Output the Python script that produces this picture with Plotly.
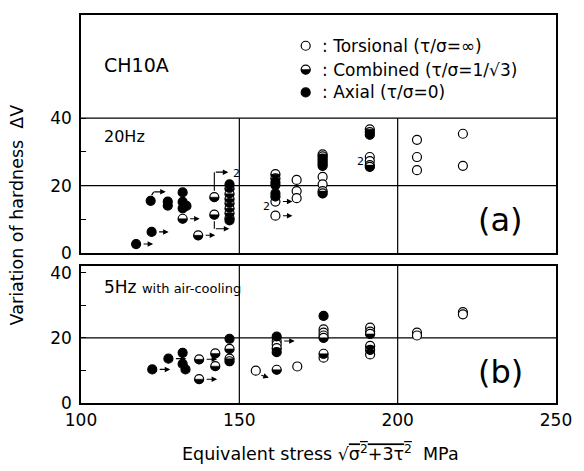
import numpy as np
import plotly.graph_objects as go

# ---------------- data ----------------
# upper panel: 20 Hz
u_tor_x = [161.4, 161.4, 168.1, 168.1, 168.1, 176.3, 176.3, 191.2, 191.2, 206.1, 206.1, 206.1, 220.6, 220.6]
u_tor_y = [15.3, 11.1, 21.7, 18.4, 16.3, 22.6, 20.4, 28.5, 27.3, 33.6, 28.5, 24.6, 35.4, 25.9]
u_com_x = [132.1, 137.0, 142.1, 142.1, 146.9, 146.9, 146.9, 146.9, 146.9, 146.9, 146.9,
           161.4, 161.4, 161.4, 176.3, 176.3, 176.3, 176.3, 176.3, 176.3, 176.3, 176.3,
           191.2, 191.2, 191.2, 191.2, 191.2]
u_com_y = [10.2, 5.3, 16.6, 11.4, 19.2, 17.6, 16.1, 14.8, 13.3, 11.9, 10.4,
           23.4, 22.2, 16.8, 29.3, 28.7, 28.0, 27.3, 26.6, 25.9, 18.4, 17.7,
           36.7, 35.9, 35.1, 26.1, 25.6]
u_ax_x = [117.4, 122.3, 122.0, 127.4, 127.4, 132.1, 132.1, 133.3, 132.1, 146.9, 146.9, 161.4, 161.4, 161.4]
u_ax_y = [2.7, 6.3, 15.5, 15.3, 14.1, 18.0, 15.2, 14.0, 13.3, 20.4, 9.7, 21.0, 20.2, 17.7]

# lower panel: 5 Hz with air-cooling
l_tor_x = [155.2, 161.8, 161.8, 168.3, 176.6, 176.6, 176.6, 176.6, 191.3, 191.3, 191.3, 206.1, 206.1, 220.6, 220.6]
l_tor_y = [9.9, 19.0, 18.0, 11.2, 22.6, 21.6, 20.7, 13.9, 23.1, 21.9, 14.9, 21.6, 20.7, 27.9, 27.2]
l_com_x = [137.3, 137.3, 142.4, 142.4, 146.9, 146.9, 146.9, 161.8, 161.8, 176.6, 176.6, 191.3, 191.3, 191.3]
l_com_y = [13.4, 7.3, 15.2, 11.3, 16.6, 13.6, 12.8, 16.8, 10.2, 20.0, 15.1, 21.2, 17.5, 16.3]
l_ax_x = [122.5, 127.6, 132.1, 132.1, 133.0, 146.9, 161.8, 161.8, 176.6]
l_ax_y = [10.3, 13.6, 15.4, 12.0, 10.3, 19.7, 20.4, 15.6, 26.7]

# run-out arrows (base points)
u_arrow_x = [117.4, 122.3, 132.1, 137.0, 161.4, 161.4]
u_arrow_y = [2.7, 6.3, 10.2, 5.3, 15.3, 11.1]
l_arrow_x = [122.5, 127.6, 137.3, 137.3, 161.8]
l_arrow_y = [10.3, 13.6, 13.4, 7.3, 19.0]

x_ticks = [100, 150, 200, 250]
y_ticks = [0, 10, 20, 30, 40]
y_ticktext = ["0", "", "20", "", "40"]

FONT = "DejaVu Sans"
MS = 9
R = MS / 2

fig = go.Figure()

def add_points(xs, ys, yaxis, kind):
    if kind == "axial":
        mk = dict(size=MS, color="black", line=dict(color="black", width=1.2))
    else:
        mk = dict(size=MS, color="white", line=dict(color="black", width=1.2))
    fig.add_trace(go.Scatter(x=xs, y=ys, mode="markers", marker=mk, xaxis="x" if yaxis == "y2" else "x2",
                             yaxis=yaxis, showlegend=False, hoverinfo="skip"))

def half_path(r, n=14):
    t = np.linspace(0, np.pi, n)
    pts = [(r * np.cos(a), -r * np.sin(a)) for a in t]
    return "M " + " L ".join(f"{px:.2f},{py:.2f}" for px, py in pts) + " Z"

shapes = []

def add_halves(xs, ys, xref, yref):
    for x, y in zip(xs, ys):
        shapes.append(dict(type="path", xref=xref, yref=yref, xsizemode="pixel", ysizemode="pixel",
                           xanchor=x, yanchor=y, path=half_path(R), fillcolor="black",
                           line=dict(color="black", width=0.5), layer="above"))

add_points(u_tor_x, u_tor_y, "y", "open")
add_points(u_com_x, u_com_y, "y", "open")
add_points(u_ax_x, u_ax_y, "y", "axial")
add_points(l_tor_x, l_tor_y, "y2", "open")
add_points(l_com_x, l_com_y, "y2", "open")
add_points(l_ax_x, l_ax_y, "y2", "axial")
add_halves(u_com_x, u_com_y, "x2", "y")
add_halves(l_com_x, l_com_y, "x", "y2")

# grid lines
GL = dict(color="black", width=1.2)
for xv in x_ticks[1:-1]:
    shapes.append(dict(type="line", xref="x2", yref="y", x0=xv, x1=xv, y0=0, y1=y_ticks[-1], line=GL, layer="below"))
    shapes.append(dict(type="line", xref="x", yref="y2 domain", x0=xv, x1=xv, y0=0, y1=1, line=GL, layer="below"))
for yv in [20, 40]:
    shapes.append(dict(type="line", xref="x2 domain", yref="y", x0=0, x1=1, y0=yv, y1=yv, line=GL, layer="below"))
shapes.append(dict(type="line", xref="x domain", yref="y2", x0=0, x1=1, y0=20, y1=20, line=GL, layer="below"))

annotations = []

def arrow(x, y, xref, yref, x0, x1, y0=0, y1=None, head=True):
    # offsets in pixels relative to the point (y upwards)
    if y1 is None:
        y1 = y0
    annotations.append(dict(x=x, y=y, xref=xref, yref=yref, text="", showarrow=True,
                            xshift=x1, yshift=y1, ax=x0 - x1, ay=-(y0 - y1), axref="pixel", ayref="pixel",
                            arrowhead=2 if head else 0, arrowsize=1, arrowwidth=1.1, arrowcolor="black",
                            standoff=0, startstandoff=0))

for x, y in zip(u_arrow_x, u_arrow_y):
    arrow(x, y, "x2", "y", 6, 17)
for x, y in zip(l_arrow_x, l_arrow_y):
    arrow(x, y, "x", "y2", 6, 18)
# special arrows (upper)
arrow(u_ax_x[2], u_ax_y[2], "x2", "y", 2, 15, 9, 9)
arrow(u_ax_x[2], u_ax_y[2], "x2", "y", 0, 3, 4, 9, head=False)
arrow(u_com_x[2], u_com_y[2], "x2", "y", 0, 0, 5, 25, head=False)
arrow(u_com_x[2], u_com_y[2], "x2", "y", 0, 14, 25, 25)
arrow(u_com_x[3], u_com_y[3], "x2", "y", 0, 0, -5, -14, head=False)
arrow(u_com_x[3], u_com_y[3], "x2", "y", 0, 15, -14, -14)
# special arrow (lower)
arrow(l_tor_x[0], l_tor_y[0], "x", "y2", 4, 13, -4, -7)

def label2(x, y, xref, yref, dx, dy):
    annotations.append(dict(x=x, y=y, xref=xref, yref=yref, text="2", showarrow=False,
                            xshift=dx, yshift=dy, font=dict(family=FONT, size=11, color="black")))

label2(146.9, 20.4, "x2", "y", 7, 11)
label2(161.4, 15.3, "x2", "y", -9, -5)
label2(191.2, 27.3, "x2", "y", -9, 0)

W, H = 584, 471
ML, MR, MT, MB = 81, 21, 12, 68
PW, PH = W - ML - MR, H - MT - MB

def px(xp):
    return (xp - ML) / PW

def py(yp):
    return (H - MB - yp) / PH

def txt(x, y, s, size, xanchor="left", yanchor="middle", **kw):
    annotations.append(dict(x=px(x), y=py(y), xref="paper", yref="paper", text=s, showarrow=False,
                            xanchor=xanchor, yanchor=yanchor,
                            font=dict(family=FONT, size=size, color="black"), **kw))

txt(102, 62, "CH10A", 19)
txt(102, 134, "20Hz", 16)
txt(102, 286, "5Hz <span style='font-size:13px'>with air-cooling</span>", 17)
txt(507, 219, "(a)", 32, xanchor="center")
txt(507, 372, "(b)", 32, xanchor="center")
txt(324, 43, ": Torsional (τ/σ=∞)", 17)
txt(324, 67, ": Combined (τ/σ=1/√3)", 17)
txt(324, 90, ": Axial (τ/σ=0)", 17)
txt(17, 213, "Variation of hardness  ΔV", 17.5, xanchor="center", textangle=-90)
txt(324, 453, "Equivalent stress √<span style='text-decoration:overline'>σ<sup>2</sup>+3τ<sup>2</sup></span>  MPa", 17.5,
    xanchor="center")

# legend symbols
for i, yp in enumerate([43, 67, 90]):
    fill = ["white", "white", "black"][i]
    shapes.append(dict(type="circle", xref="paper", yref="paper", xsizemode="pixel", ysizemode="pixel",
                       xanchor=px(309), yanchor=py(yp), x0=-R, x1=R, y0=-R, y1=R,
                       fillcolor=fill, line=dict(color="black", width=1.2), layer="above"))
    if i == 1:
        shapes.append(dict(type="path", xref="paper", yref="paper", xsizemode="pixel", ysizemode="pixel",
                           xanchor=px(309), yanchor=py(yp), path=half_path(R), fillcolor="black",
                           line=dict(color="black", width=0.5), layer="above"))

AX = dict(showline=True, mirror=True, linecolor="black", linewidth=1.5, showgrid=False, zeroline=False)
tickfont = dict(family=FONT, size=17, color="black")

fig.update_layout(
    width=W, height=H, margin=dict(l=ML, r=MR, t=MT, b=MB),
    paper_bgcolor="white", plot_bgcolor="white",
    xaxis=dict(domain=[0, 1], range=[100, 250], anchor="y2", tickvals=x_ticks, ticks="",
               tickfont=tickfont, ticklabelstandoff=1, **AX),
    xaxis2=dict(domain=[0, 1], range=[100, 250], anchor="y", matches="x", showticklabels=False, ticks="", **AX),
    yaxis=dict(domain=[py(252), 1], range=[0, 70.6], tickvals=y_ticks, ticktext=y_ticktext, ticks="inside",
               ticklen=5, tickcolor="black", tickfont=tickfont, ticklabelstandoff=4, **AX),
    yaxis2=dict(domain=[0, py(265)], range=[0, 42], tickvals=y_ticks, ticktext=y_ticktext, ticks="inside",
                ticklen=5, tickcolor="black", tickfont=tickfont, ticklabelstandoff=4, **AX),
    shapes=shapes, annotations=annotations, showlegend=False,
)

fig.write_html("out.html")
